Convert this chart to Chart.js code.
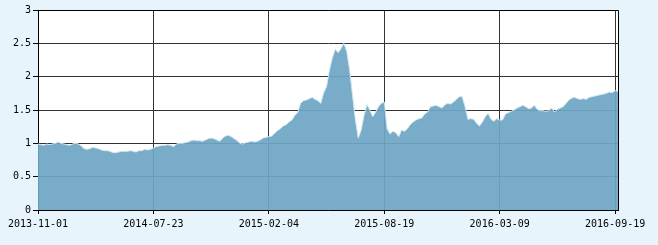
<!DOCTYPE html>
<html>
<head>
<meta charset="utf-8">
<script src="https://cdn.jsdelivr.net/npm/chart.js@4"></script>
<style>
  html, body { margin: 0; padding: 0; background: #e8f4fc; }
  #wrap { width: 658px; height: 245px; }
</style>
</head>
<body>
<div id="wrap"><canvas id="navChart"></canvas></div>
<script>
// tick labels on the x axis, placed every 40 points
const tickLabels = ['2013-11-01', '2014-07-23', '2015-02-04', '2015-08-19', '2016-03-09', '2016-09-19'];
const tickStep = 40;

// net value series
const navValues = [
  0.99, 0.98, 0.97, 0.99, 0.98, 0.99, 1.00, 1.02, 1.00, 0.99,
  0.98, 0.97, 0.99, 1.00, 0.99, 0.96, 0.92, 0.91, 0.92, 0.94,
  0.93, 0.92, 0.90, 0.89, 0.89, 0.88, 0.86, 0.86, 0.87, 0.88,
  0.88, 0.88, 0.89, 0.88, 0.87, 0.89, 0.89, 0.91, 0.90, 0.91,
  0.93, 0.95, 0.96, 0.97, 0.97, 0.98, 0.97, 0.95, 0.99, 1.00,
  1.00, 1.01, 1.02, 1.04, 1.05, 1.04, 1.04, 1.03, 1.05, 1.07,
  1.08, 1.07, 1.05, 1.03, 1.08, 1.11, 1.12, 1.10, 1.07, 1.04,
  1.00, 0.99, 1.01, 1.02, 1.03, 1.02, 1.03, 1.05, 1.08, 1.09,
  1.10, 1.11, 1.15, 1.19, 1.22, 1.26, 1.28, 1.32, 1.35, 1.42,
  1.46, 1.60, 1.64, 1.65, 1.67, 1.69, 1.66, 1.64, 1.60, 1.76,
  1.85, 2.10, 2.28, 2.41, 2.36, 2.42, 2.50, 2.38, 2.10, 1.72,
  1.35, 1.08, 1.20, 1.42, 1.58, 1.50, 1.40, 1.47, 1.55, 1.60,
  1.62, 1.22, 1.14, 1.18, 1.16, 1.10, 1.20, 1.18, 1.22, 1.28,
  1.32, 1.35, 1.37, 1.38, 1.44, 1.47, 1.55, 1.56, 1.57, 1.55,
  1.53, 1.58, 1.60, 1.59, 1.62, 1.66, 1.70, 1.70, 1.55, 1.36,
  1.37, 1.36, 1.30, 1.26, 1.32, 1.40, 1.45, 1.36, 1.33, 1.37,
  1.35, 1.35, 1.44, 1.46, 1.48, 1.50, 1.53, 1.55, 1.57, 1.55,
  1.52, 1.53, 1.57, 1.51, 1.49, 1.49, 1.48, 1.49, 1.53, 1.47,
  1.51, 1.53, 1.55, 1.60, 1.65, 1.68, 1.69, 1.67, 1.66, 1.67,
  1.66, 1.69, 1.70, 1.71, 1.72, 1.73, 1.74, 1.75, 1.77, 1.76,
  1.79, 1.78
];

const points = navValues.map((v, i) => ({ x: i, y: v }));

// draws the top and right edges of the plot box
const frame = {
  id: 'frame',
  afterDraw(chart) {
    const { ctx, chartArea: a } = chart;
    ctx.save();
    ctx.strokeStyle = '#000';
    ctx.lineWidth = 1;
    ctx.beginPath();
    ctx.moveTo(Math.round(a.left) + 0.5, Math.round(a.top) + 0.5);
    ctx.lineTo(Math.round(a.right) + 0.5, Math.round(a.top) + 0.5);
    ctx.lineTo(Math.round(a.right) + 0.5, Math.round(a.bottom) + 0.5);
    ctx.stroke();
    ctx.restore();
  }
};

const plotBg = {
  id: 'plotBg',
  beforeDraw(chart) {
    const { ctx, chartArea: a } = chart;
    ctx.save();
    ctx.fillStyle = '#fff';
    ctx.fillRect(a.left, a.top, a.right - a.left, a.bottom - a.top);
    ctx.restore();
  }
};

const font = { family: '"DejaVu Sans Mono", monospace', size: 10 };

new Chart(document.getElementById('navChart'), {
  type: 'line',
  data: {
    datasets: [{
      data: points,
      fill: 'origin',
      backgroundColor: 'rgba(110, 166, 196, 0.93)',
      borderColor: '#d4e7f2',
      borderWidth: 1,
      pointRadius: 0,
      tension: 0
    }]
  },
  options: {
    responsive: true,
    maintainAspectRatio: false,
    animation: false,
    layout: { padding: { top: 10, right: 40, left: 0, bottom: 0 } },
    plugins: { legend: { display: false }, tooltip: { enabled: false } },
    scales: {
      x: {
        type: 'linear',
        min: 0,
        max: navValues.length - 1,
        afterBuildTicks: (scale) => {
          scale.ticks = tickLabels.map((_, i) => ({ value: i * tickStep }));
        },
        afterFit: (scale) => { scale.height = 35; },
        ticks: {
          autoSkip: false,
          maxRotation: 0,
          color: '#000',
          font: font,
          padding: 4,
          callback: (v) => tickLabels[v / tickStep]
        },
        grid: { color: '#333', tickColor: '#000', tickLength: 4 },
        border: { display: true, color: '#000', width: 1 }
      },
      y: {
        min: 0,
        max: 3,
        afterFit: (scale) => { scale.width = 38; },
        ticks: {
          stepSize: 0.5,
          color: '#000',
          font: font,
          padding: 2,
          callback: (v) => String(v)
        },
        grid: { color: '#333', tickColor: '#000', tickLength: 5 },
        border: { display: true, color: '#000', width: 1 }
      }
    }
  },
  plugins: [plotBg, frame]
});
</script>
</body>
</html>
